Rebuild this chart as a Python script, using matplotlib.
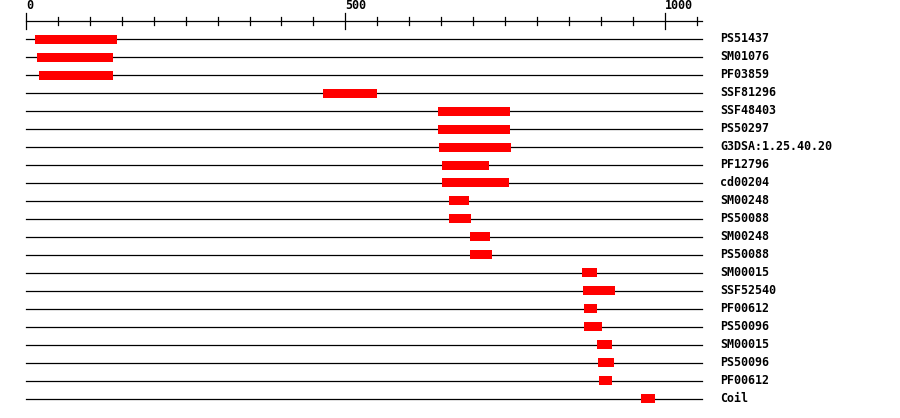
import matplotlib
matplotlib.use('Agg')
import matplotlib.pyplot as plt
import numpy as np

# domain hits, top to bottom
names = ['PS51437', 'SM01076', 'PF03859', 'SSF81296', 'SSF48403', 'PS50297',
         'G3DSA:1.25.40.20', 'PF12796', 'cd00204', 'SM00248', 'PS50088',
         'SM00248', 'PS50088', 'SM00015', 'SSF52540', 'PF00612', 'PS50096',
         'SM00015', 'PS50096', 'PF00612', 'Coil']
starts = [14, 17, 20, 465, 645, 645, 647, 651, 651, 662, 662,
          695, 695, 871, 872, 874, 874, 894, 896, 897, 963]
ends = [143, 136, 136, 550, 758, 758, 760, 725, 756, 694, 697,
        727, 730, 894, 922, 894, 902, 918, 921, 918, 985]

seq_len = 1058
major_ticks = [0, 500, 1000]
minor_step = 50

W, H = 900, 418
x0_px, px_per_unit = 26, 0.6386
row0_px, row_px = 39, 18

fig = plt.figure(figsize=(W / 100, H / 100), dpi=100)
ax = fig.add_axes([0, 0, 1, 1])
ax.set_xlim(-x0_px / px_per_unit, (W - x0_px) / px_per_unit)
ax.set_ylim((H - row0_px) / row_px, -row0_px / row_px)
ax.axis('off')

font = dict(family='DejaVu Sans Mono', weight='bold', size=8.4)

# scale at the top
ax.plot([0, seq_len], [-1, -1], color='black', lw=0.9)
for t in range(0, seq_len + 1, minor_step):
    h = 0.42 if t in major_ticks else 0.22
    ax.plot([t, t], [-1 - h, -1 + h], color='black', lw=0.9)
for t in major_ticks:
    ax.text(t, -1.5, str(t), ha='left', va='bottom', **font)

rows = np.arange(len(names))
for i, name in enumerate(names):
    ax.plot([0, seq_len], [i, i], color='black', lw=0.9)
ax.barh(rows, np.array(ends) - np.array(starts), left=starts, height=0.5,
        color='#ff0000', edgecolor='none', zorder=3)
for i, name in enumerate(names):
    ax.text(0.8, i, name, transform=ax.get_yaxis_transform(),
            ha='left', va='center', **font)

fig.savefig('out.png', dpi=100)
